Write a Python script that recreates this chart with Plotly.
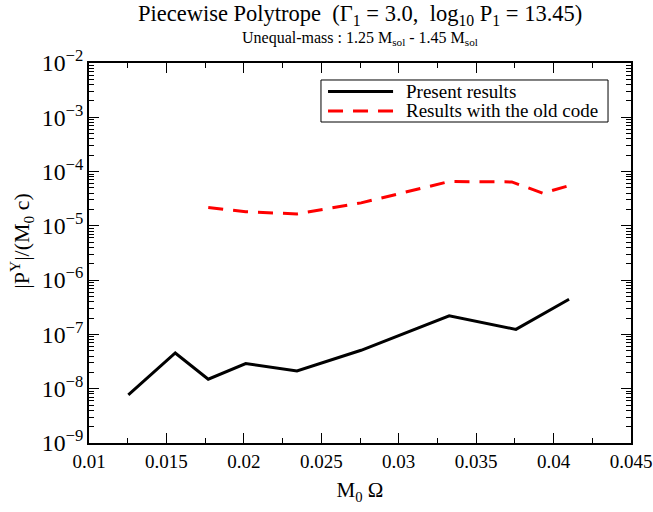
import plotly.graph_objects as go

# Linear momentum |P^Y| versus orbital frequency M0*Omega
omega_new = [0.01254, 0.01557, 0.0177, 0.02012, 0.02343, 0.02757, 0.03326, 0.03757, 0.041]
py_new = [7.7e-9, 4.55e-8, 1.5e-8, 2.9e-8, 2.12e-8, 5.1e-8, 2.2e-7, 1.24e-7, 4.45e-7]

omega_old = [0.0177, 0.02012, 0.02343, 0.02757, 0.03326, 0.0373, 0.0393, 0.041]
py_old = [2.17e-5, 1.82e-5, 1.66e-5, 2.65e-5, 6.55e-5, 6.45e-5, 4.0e-5, 5.5e-5]

name_new = "Present results"
name_old = "Results with the old code"

x_ticks = [0.01, 0.015, 0.02, 0.025, 0.03, 0.035, 0.04, 0.045]
x_ticktext = ["0.01", "0.015", "0.02", "0.025", "0.03", "0.035", "0.04", "0.045"]

FONT = "Liberation Serif"
NEW_STYLE = dict(color="black", width=3)
OLD_STYLE = dict(color="#ff0000", width=3, dash="15px,10px")

fig = go.Figure()
fig.add_trace(go.Scatter(x=omega_new, y=py_new, mode="lines", name=name_new, line=NEW_STYLE))
fig.add_trace(go.Scatter(x=omega_old, y=py_old, mode="lines", name=name_old, line=OLD_STYLE))

fig.update_layout(
    width=653, height=512,
    margin=dict(l=89, r=22, t=63, b=69),
    paper_bgcolor="white", plot_bgcolor="white",
    font=dict(family=FONT, color="black", size=18),
    showlegend=False,
)

fig.update_xaxes(
    range=[0.01, 0.045], tickvals=x_ticks, ticktext=x_ticktext, automargin=False,
    ticks="inside", ticklen=10, tickwidth=1, tickcolor="black",
    showline=True, linecolor="black", linewidth=2, mirror="ticks",
    showgrid=False, zeroline=False,
    tickfont=dict(family=FONT, size=19),
    minor=dict(dtick=0.0025, tick0=0.01, ticks="inside", ticklen=5, tickcolor="black", showgrid=False),
    title=dict(text="M<sub>0</sub> Ω", font=dict(family=FONT, size=21), standoff=12),
)
fig.update_yaxes(
    type="log", range=[-9, -2], dtick=1, exponentformat="power", automargin=False,
    ticks="inside", ticklen=10, tickwidth=1, tickcolor="black",
    showline=True, linecolor="black", linewidth=2, mirror="ticks",
    showgrid=False, zeroline=False,
    tickfont=dict(family=FONT, size=19),
    minor=dict(ticks="inside", ticklen=5, tickcolor="black", showgrid=False),
)

# Y-axis label, rotated
fig.add_annotation(text="|P<sup>Y</sup>|/(M<sub>0</sub> c)", textangle=-90,
                   xref="paper", yref="paper", x=-0.124, y=0.532, xanchor="center", yanchor="middle",
                   showarrow=False, font=dict(family=FONT, size=22))

# Titles
fig.add_annotation(text="Piecewise Polytrope&nbsp;&nbsp;(Γ<sub>1</sub> = 3.0,&nbsp;&nbsp;log<sub>10</sub> P<sub>1</sub> = 13.45)",
                   xref="paper", yref="paper", x=0.5, y=1, yshift=48, xanchor="center",
                   yanchor="middle", showarrow=False, font=dict(family=FONT, size=22.5))
fig.add_annotation(text="Unequal-mass : 1.25 M<sub>sol</sub> - 1.45 M<sub>sol</sub>",
                   xref="paper", yref="paper", x=0.5, y=1, yshift=25, xanchor="center",
                   yanchor="middle", showarrow=False, font=dict(family=FONT, size=16))

# Legend box drawn in paper coordinates
fig.add_shape(type="rect", xref="paper", yref="paper", x0=0.428, x1=0.9576, y0=0.8447, y1=0.9553,
              line=dict(color="black", width=1), fillcolor="white", layer="above")
legend_rows = [(name_new, NEW_STYLE, 0.925), (name_old, OLD_STYLE, 0.8737)]
for label, style, yrow in legend_rows:
    fig.add_shape(type="line", xref="paper", yref="paper", x0=0.441, x1=0.561, y0=yrow, y1=yrow,
                  line=style, layer="above")
    fig.add_annotation(text=label, xref="paper", yref="paper", x=0.581, y=yrow,
                       xanchor="left", yanchor="middle", showarrow=False,
                       font=dict(family=FONT, size=19))

fig.write_html("out.html")
